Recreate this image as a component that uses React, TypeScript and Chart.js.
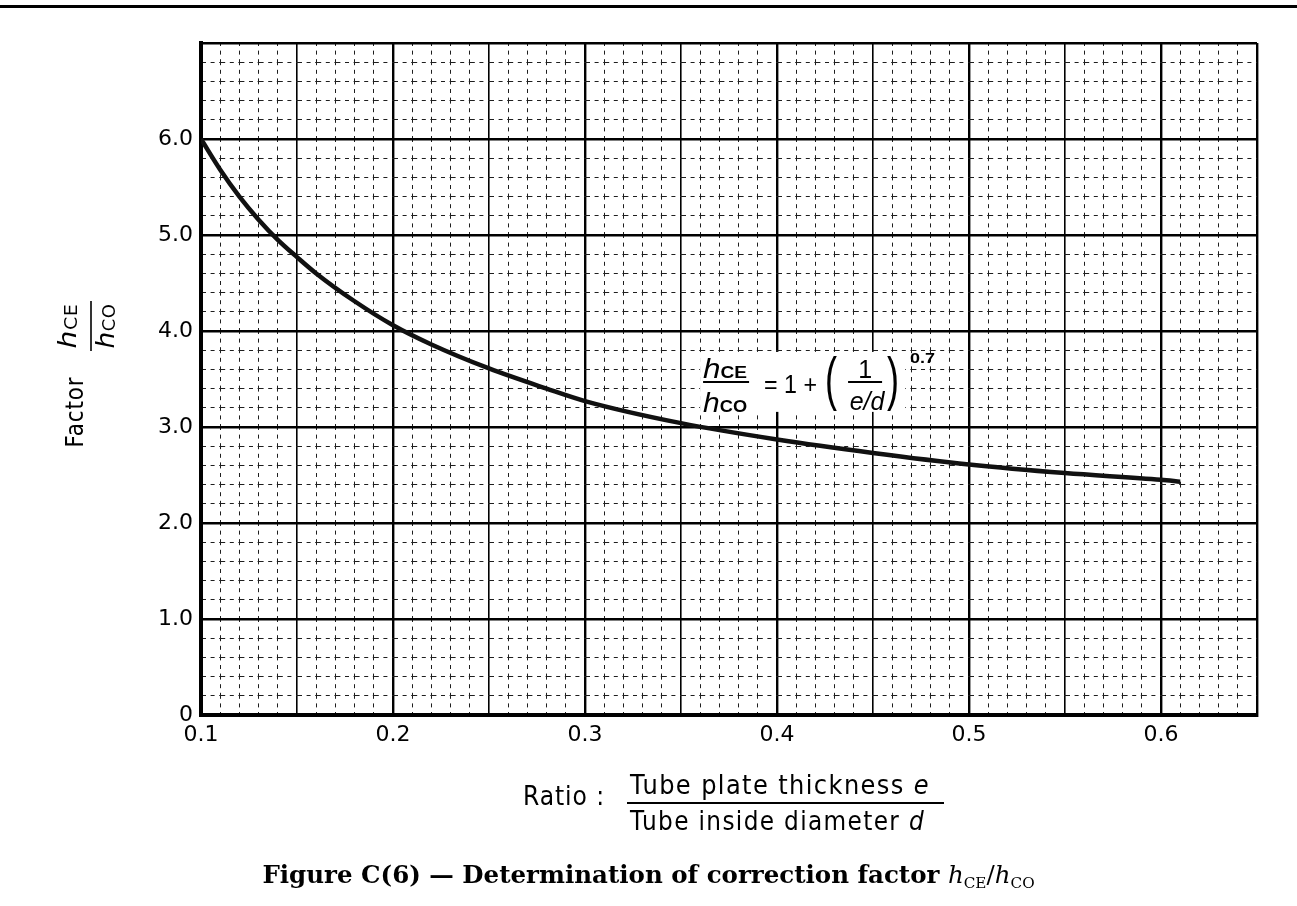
import React, { useEffect, useRef } from 'react';
import { Chart, registerables } from 'chart.js';

Chart.register(...registerables);

// ---- data ----
const ratioValues = [0.10, 0.11, 0.12, 0.13, 0.14, 0.15, 0.16, 0.18, 0.20, 0.22, 0.25, 0.28, 0.30, 0.35, 0.40, 0.45, 0.50, 0.55, 0.60, 0.61];
const factorValues = [6.00, 5.68, 5.40, 5.16, 4.95, 4.77, 4.60, 4.31, 4.06, 3.86, 3.61, 3.40, 3.27, 3.04, 2.87, 2.73, 2.61, 2.52, 2.45, 2.43];
const xTickLabels = ['0.1', '0.2', '0.3', '0.4', '0.5', '0.6'];
const yTickLabels = ['0', '1.0', '2.0', '3.0', '4.0', '5.0', '6.0'];

const X_MIN = 0.1;
const X_MAX = 0.65;
const Y_MIN = 0;
const Y_MAX = 7;
const X_MINOR_PER_UNIT = 100; // grid every 0.01
const Y_MINOR_PER_UNIT = 5; // grid every 0.2

const TECH_FONT = "'DejaVu Sans', sans-serif";
const FORMULA_FONT = "'Liberation Sans', Arial, sans-serif";

type Run = { t: string; font: string; dy?: number };

function drawRuns(ctx: CanvasRenderingContext2D, runs: Run[], x: number, y: number, width: number | null, align: 'left' | 'center', spacing = 0) {
  ctx.save();
  (ctx as any).letterSpacing = spacing + 'px';
  let total = 0;
  const ws = runs.map((r) => {
    ctx.font = r.font;
    const w = ctx.measureText(r.t).width;
    total += w;
    return w;
  });
  const s = width ? width / total : 1;
  ctx.translate(x, y);
  ctx.scale(s, 1);
  ctx.textAlign = 'left';
  ctx.textBaseline = 'alphabetic';
  let cx = align === 'center' ? -total / 2 : 0;
  runs.forEach((r, i) => {
    ctx.font = r.font;
    ctx.fillText(r.t, cx, r.dy || 0);
    cx += ws[i];
  });
  ctx.restore();
}

function line(ctx: CanvasRenderingContext2D, x1: number, y1: number, x2: number, y2: number, w: number) {
  ctx.save();
  ctx.lineWidth = w;
  ctx.beginPath();
  ctx.moveTo(x1, y1);
  ctx.lineTo(x2, y2);
  ctx.stroke();
  ctx.restore();
}

function gridKind(axis: string, v: number): 'major' | 'mid' | 'minor' {
  if (axis === 'x') {
    const k = Math.round(v * 100);
    if (k % 10 === 0 || k === Math.round(X_MAX * 100)) return 'major';
    if (k % 5 === 0) return 'mid';
    return 'minor';
  }
  const k = Math.round(v * 10);
  if (k % 10 === 0) return 'major';
  return 'minor';
}

const GRID_STYLE = {
  major: { color: '#000000', width: 2.4 },
  mid: { color: '#000000', width: 1.6 },
  minor: { color: '#1e1e1e', width: 1 },
};

const gridColor = (c: any) => (c.tick ? GRID_STYLE[gridKind(c.scale.axis, c.tick.value)].color : '#000');
const gridWidth = (c: any) => (c.tick ? GRID_STYLE[gridKind(c.scale.axis, c.tick.value)].width : 1);
const gridDash = (c: any) => {
  if (!c.tick || gridKind(c.scale.axis, c.tick.value) !== 'minor') return [];
  const ch = c.chart;
  let p;
  if (c.scale.axis === 'x') {
    const ys = ch.scales.y;
    p = Math.abs(ys.getPixelForValue(Y_MIN) - ys.getPixelForValue(Y_MIN + 1 / Y_MINOR_PER_UNIT));
  } else {
    const xs = ch.scales.x;
    p = Math.abs(xs.getPixelForValue(X_MIN + 1 / X_MINOR_PER_UNIT) - xs.getPixelForValue(X_MIN));
  }
  const g = Math.max(1, (p - 10) / 2);
  return [6, g, 4, g];
};

const figureText = {
  id: 'figureText',
  afterDraw(chart: any) {
    const ctx: CanvasRenderingContext2D = chart.ctx;
    const xs = chart.scales.x;
    const ys = chart.scales.y;
    ctx.save();
    ctx.fillStyle = '#000';
    ctx.strokeStyle = '#000';

    // ---- y axis title (rotated) ----
    ctx.save();
    ctx.translate(74, 412);
    ctx.rotate(-Math.PI / 2);
    drawRuns(ctx, [{ t: 'Factor', font: `24px ${TECH_FONT}` }], 0, 9, 71, 'center', 1);
    ctx.restore();

    ctx.save();
    ctx.translate(91, 326);
    ctx.rotate(-Math.PI / 2);
    line(ctx, -25, 0, 25, 0, 1.6);
    drawRuns(ctx, [{ t: 'h', font: `italic 25px ${TECH_FONT}` }, { t: 'CE', font: `17px ${TECH_FONT}`, dy: 1 }], 0, -15, 45, 'center', 0.5);
    drawRuns(ctx, [{ t: 'h', font: `italic 25px ${TECH_FONT}` }, { t: 'CO', font: `17px ${TECH_FONT}`, dy: 1 }], 0, 23, 45, 'center', 0.5);
    ctx.restore();

    // ---- x axis title ----
    drawRuns(ctx, [{ t: 'Ratio :', font: `26px ${TECH_FONT}` }], 523, 805, 82, 'left', 1);
    drawRuns(ctx, [{ t: 'Tube plate thickness ', font: `26px ${TECH_FONT}` }, { t: 'e', font: `italic 26px ${TECH_FONT}` }], 630, 794, 300, 'left', 1.5);
    line(ctx, 627, 803, 944, 803, 2);
    drawRuns(ctx, [{ t: 'Tube inside diameter ', font: `26px ${TECH_FONT}` }, { t: 'd', font: `italic 26px ${TECH_FONT}` }], 630, 830, 295, 'left', 1.5);

    // ---- formula annotation ----
    const ax = xs.getPixelForValue(0.3615);
    const ay = ys.getPixelForValue(3.47);
    ctx.fillStyle = '#fff';
    ctx.fillRect(ax - 3, ay - 30, 205, 60);
    ctx.fillStyle = '#000';
    drawRuns(ctx, [{ t: 'h', font: `italic 28px ${FORMULA_FONT}` }, { t: 'CE', font: `bold 17px ${FORMULA_FONT}`, dy: 0 }], ax, ay - 4, 44, 'left');
    line(ctx, ax, ay, ax + 46, ay, 2);
    drawRuns(ctx, [{ t: 'h', font: `italic 28px ${FORMULA_FONT}` }, { t: 'CO', font: `bold 17px ${FORMULA_FONT}`, dy: 0 }], ax, ay + 30, 44, 'left');
    drawRuns(ctx, [{ t: '= 1 +', font: `25px ${FORMULA_FONT}` }], ax + 61, ay + 11, 53, 'left');
    drawRuns(ctx, [{ t: '(', font: `60px ${FORMULA_FONT}` }], ax + 122, ay + 17, 12, 'left');
    drawRuns(ctx, [{ t: '1', font: `25px ${FORMULA_FONT}` }], ax + 162, ay - 4, null, 'center');
    line(ctx, ax + 145, ay, ax + 179, ay, 2);
    drawRuns(ctx, [{ t: 'e/d', font: `italic 25px ${FORMULA_FONT}` }], ax + 164, ay + 28, null, 'center');
    drawRuns(ctx, [{ t: ')', font: `60px ${FORMULA_FONT}` }], ax + 184, ay + 17, 12, 'left');
    drawRuns(ctx, [{ t: '0.7', font: `bold 15px ${FORMULA_FONT}` }], ax + 207, ay - 19, 25, 'left');

    ctx.restore();
  },
};

export default function App() {
  const canvasRef = useRef<HTMLCanvasElement | null>(null);

  useEffect(() => {
    if (!canvasRef.current) return;
    const chart = new Chart(canvasRef.current, {
      type: 'line',
      data: {
        datasets: [
          {
            data: ratioValues.map((x, i) => ({ x, y: factorValues[i] })),
            borderColor: '#111',
            borderWidth: 4.5,
            pointRadius: 0,
            fill: false,
            cubicInterpolationMode: 'monotone',
          },
        ],
      },
      options: {
        responsive: false,
        animation: false,
        devicePixelRatio: 1,
        layout: { padding: { left: 0, top: 43, right: 40, bottom: 141 } },
        plugins: { legend: { display: false }, tooltip: { enabled: false }, title: { display: false } },
        scales: {
          x: {
            type: 'linear',
            min: X_MIN,
            max: X_MAX,
            afterBuildTicks: (s: any) => {
              const t = [];
              for (let i = Math.round(X_MIN * X_MINOR_PER_UNIT); i <= Math.round(X_MAX * X_MINOR_PER_UNIT); i++) t.push({ value: i / X_MINOR_PER_UNIT });
              s.ticks = t;
            },
            afterFit: (s: any) => {
              s.height = 50;
            },
            ticks: {
              autoSkip: false,
              maxRotation: 0,
              padding: 7,
              color: '#000',
              font: { family: TECH_FONT, size: 22 },
              callback: (v: any) => {
                const k = Math.round(Number(v) * 100);
                if (k % 10 === 0 && k / 10 - 1 < xTickLabels.length) return xTickLabels[k / 10 - 1];
                return '';
              },
            },
            grid: { color: gridColor, lineWidth: gridWidth, drawTicks: false },
            border: { display: true, color: '#000', width: 4, dash: gridDash, dashOffset: 3 },
          },
          y: {
            type: 'linear',
            min: Y_MIN,
            max: Y_MAX,
            afterBuildTicks: (s: any) => {
              const t = [];
              for (let i = Y_MIN * Y_MINOR_PER_UNIT; i <= Y_MAX * Y_MINOR_PER_UNIT; i++) t.push({ value: i / Y_MINOR_PER_UNIT });
              s.ticks = t;
            },
            afterFit: (s: any) => {
              s.width = 201;
            },
            ticks: {
              autoSkip: false,
              padding: 8,
              color: '#000',
              font: { family: TECH_FONT, size: 22 },
              callback: (v: any) => {
                const k = Math.round(Number(v) * 10);
                if (k % 10 === 0 && k / 10 < yTickLabels.length) return yTickLabels[k / 10];
                return '';
              },
            },
            grid: { color: gridColor, lineWidth: gridWidth, drawTicks: false },
            border: { display: true, color: '#000', width: 4, dash: gridDash, dashOffset: 3 },
          },
        },
      },
      plugins: [figureText],
    } as any);
    return () => chart.destroy();
  }, []);

  return (
    <div style={{ position: 'absolute', left: 0, top: 0, width: 1297, height: 906, overflow: 'hidden', background: '#fff' }}>
      <div style={{ position: 'absolute', left: 0, top: 5, width: 1297, height: 3, background: '#000' }} />
      <canvas ref={canvasRef} width={1297} height={906} style={{ position: 'absolute', left: 0, top: 0, display: 'block' }} />
      <div
        style={{
          position: 'absolute',
          left: 0,
          top: 860,
          width: 1297,
          textAlign: 'center',
          fontFamily: "'DejaVu Serif', serif",
          fontWeight: 'bold',
          fontSize: 24.5,
          lineHeight: '30px',
          color: '#000',
          whiteSpace: 'nowrap',
        }}
      >
        Figure C(6) — Determination of correction factor{' '}
        <span style={{ fontWeight: 'normal' }}>
          <i>h</i>
          <span style={{ fontSize: '0.62em', position: 'relative', top: '0.3em' }}>CE</span>/<i>h</i>
          <span style={{ fontSize: '0.62em', position: 'relative', top: '0.3em' }}>CO</span>
        </span>
      </div>
    </div>
  );
}
